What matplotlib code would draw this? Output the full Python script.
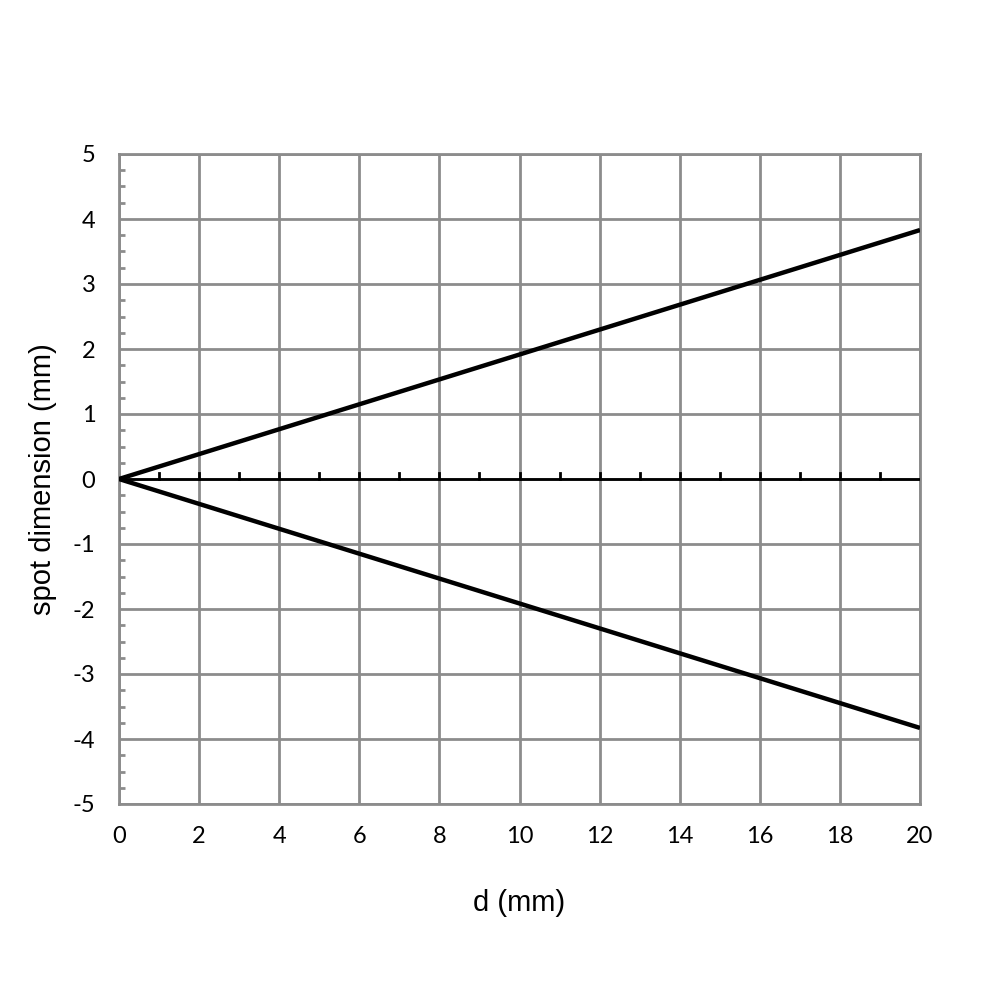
import matplotlib
matplotlib.use("Agg")
import matplotlib.pyplot as plt
from matplotlib.ticker import MultipleLocator

d = [0, 20]
upper = [0, 3.83]
lower = [0, -3.83]
x_ticks = [0, 2, 4, 6, 8, 10, 12, 14, 16, 18, 20]
y_ticks = [-5, -4, -3, -2, -1, 0, 1, 2, 3, 4, 5]

fig = plt.figure(figsize=(10, 10), dpi=100)
ax = fig.add_axes([0.119, 0.196, 0.801, 0.650])

grid_c = "#8c8c8c"
ax.set_xlim(0, 20)
ax.set_ylim(-5, 5)
ax.set_xticks(x_ticks)
ax.set_yticks(y_ticks)
ax.grid(True, color=grid_c, linewidth=2)
ax.set_axisbelow(True)
for s in ax.spines.values():
    s.set_color(grid_c)
    s.set_linewidth(2)

ax.yaxis.set_minor_locator(MultipleLocator(0.25))
ax.tick_params(axis="y", which="minor", direction="in", length=4, width=2, color=grid_c)
ax.tick_params(axis="y", which="major", direction="in", length=0, pad=17)
ax.tick_params(axis="x", which="major", length=0, pad=16)
ax.set_yticklabels([str(v) for v in y_ticks], fontfamily="Lato", fontsize=17)
ax.set_xticklabels([str(v) for v in x_ticks], fontfamily="Lato", fontsize=17)

# zero line with upward ticks
ax.axhline(0, color="black", linewidth=2, zorder=3)
for xv in range(1, 20):
    ax.plot([xv, xv], [0, 0.1], color="black", linewidth=2, zorder=3)

ax.plot(d, upper, color="black", linewidth=3.2, zorder=4, solid_capstyle="butt")
ax.plot(d, lower, color="black", linewidth=3.2, zorder=4, solid_capstyle="butt")

ax.set_xlabel("d (mm)", fontfamily="Liberation Sans", fontsize=21, labelpad=30)
ax.set_ylabel("spot dimension (mm)", fontfamily="Liberation Sans", fontsize=21, labelpad=11)

fig.savefig("out.png", dpi=100)
